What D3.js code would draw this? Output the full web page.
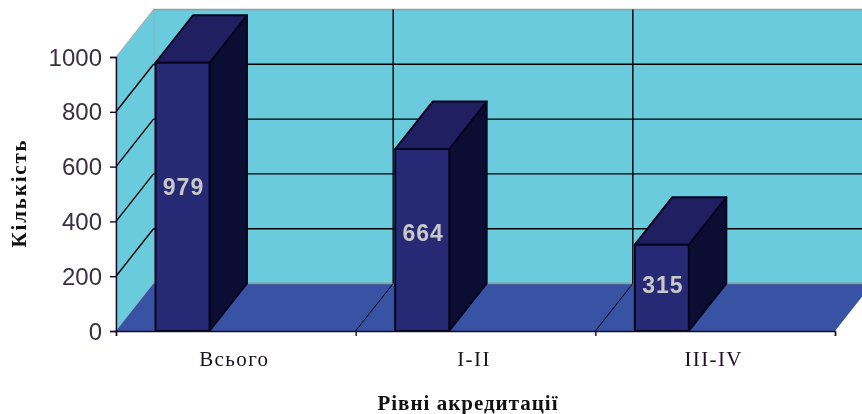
<!DOCTYPE html>
<html><head><meta charset="utf-8">
<script src="https://cdn.jsdelivr.net/npm/d3@7"></script>
<style>html,body{margin:0;padding:0;background:#fff;overflow:hidden}svg{display:block;filter:blur(0.4px)}</style>
</head><body><svg id="c" width="862" height="414"></svg>
<script>
const categories = ["Всього", "I-II", "III-IV"];
const values = [979, 664, 315];
const yTicks = [0, 200, 400, 600, 800, 1000];
const xTitle = "Рівні акредитації";
const yTitle = "Кількість";

const svg = d3.select("#c");
const xL = 116, xR = 835, yB = 331, yT = 57;
const depthX = 37.5, depthY = -47.5;
const x = d3.scaleBand().domain(categories).range([xL, xR]);
const y = d3.scaleLinear().domain([0, 1000]).range([yB, yT]);
const barW = 54, barOffset = 39.5;
const poly = pts => pts.map(p => p.join(",")).join(" ");
const line = d3.line();
const ink = "#000", wall = "#69cbdc", floor = "#3853a4";

// Walls and floor
svg.append("polygon").attr("points", poly([[xL+depthX,yT+depthY],[xR+depthX,yT+depthY],[xR+depthX,yB+depthY],[xL+depthX,yB+depthY]]))
  .attr("fill", wall).attr("stroke", "#9a9aa0").attr("stroke-width", 1.5);
svg.append("polygon").attr("points", poly([[xL,yT],[xL+depthX,yT+depthY],[xL+depthX,yB+depthY],[xL,yB]]))
  .attr("fill", wall).attr("stroke", "#b0a8b4").attr("stroke-width", 1);
svg.append("polygon").attr("points", poly([[xL,yB],[xL+depthX,yB+depthY],[xR+depthX,yB+depthY],[xR,yB]]))
  .attr("fill", floor);
svg.append("path").attr("d", line([[xL+depthX,yB+depthY],[xR+depthX,yB+depthY]])).attr("stroke", "#8a9aa0").attr("stroke-width", 1.5);

// Gridlines
const grid = svg.append("g").attr("fill", "none").attr("stroke", ink).attr("stroke-width", 1.4);
yTicks.forEach(t => {
  if (t > 0 && t < 1000) grid.append("path").attr("d", line([[xL+depthX, y(t)+depthY],[xR+depthX, y(t)+depthY]]));
  if (t > 0 && t < 1000) grid.append("path").attr("d", line([[xL, y(t)],[xL+depthX, y(t)+depthY]]));
});
categories.slice(1).forEach(c => {
  const bx = x(c);
  grid.append("path").attr("d", line([[bx+depthX, yT+depthY],[bx+depthX, yB+depthY]]));
  grid.append("path").attr("d", line([[bx, yB],[bx+depthX, yB+depthY]])).attr("stroke-width", 1);
});

// Bars
categories.forEach((c, i) => {
  const x0 = x(c) + barOffset, x1 = x0 + barW;
  const yv = y(values[i]);
  const g = svg.append("g").attr("stroke", "#05051e").attr("stroke-width", 2).attr("stroke-linejoin", "round");
  g.append("polygon").attr("points", poly([[x1,yv],[x1+depthX,yv+depthY],[x1+depthX,yB+depthY],[x1,yB]])).attr("fill", "#0b0d33");
  g.append("polygon").attr("points", poly([[x0,yv],[x0+depthX,yv+depthY],[x1+depthX,yv+depthY],[x1,yv]])).attr("fill", "#1f1f62");
  g.append("polygon").attr("points", poly([[x0,yv],[x1,yv],[x1,yB],[x0,yB]])).attr("fill", "#262a74");
  svg.append("text").text(values[i])
    .attr("x", (x0+x1)/2 + 1).attr("y", y(values[i]*0.54) + 8.5)
    .attr("text-anchor", "middle").attr("font-family", "Liberation Sans").attr("font-weight", "bold")
    .attr("font-size", 23).attr("letter-spacing", 1).attr("fill", "#c8c8c8");
});

// Axes
const yAxis = d3.axisLeft(y).tickValues(yTicks).tickSize(6).tickFormat(d3.format("d"));
const ya = svg.append("g").attr("transform", `translate(${xL},0)`).call(yAxis);
ya.selectAll("path,line").attr("stroke", "#1c0a24").attr("stroke-width", 1.4);
ya.selectAll("text").attr("font-family", "Liberation Sans").attr("font-size", 24).attr("fill", "#3a3040").attr("x", -14).attr("dy", "0.34em");

const xAxis = d3.axisBottom(d3.scaleLinear().domain([0, 3]).range([xL, xR])).tickValues([0, 1, 2, 3]).tickSize(5).tickFormat("");
const xa = svg.append("g").attr("transform", `translate(0,${yB})`).call(xAxis);
xa.selectAll("path,line").attr("stroke", "#1c0a24").attr("stroke-width", 1.4);

categories.forEach(c => {
  svg.append("text").text(c).attr("x", x(c) + x.bandwidth()/2 - 1.5).attr("y", 366)
    .attr("text-anchor", "middle").attr("font-family", "Liberation Serif").attr("font-size", 21)
    .attr("letter-spacing", 1.4).attr("fill", "#1c1020");
});

svg.append("text").text(xTitle).attr("x", 468).attr("y", 410).attr("text-anchor", "middle")
  .attr("font-family", "Liberation Serif").attr("font-weight", "bold").attr("font-size", 21).attr("letter-spacing", 1).attr("fill", "#111");
svg.append("text").text(yTitle).attr("transform", "translate(26,193) rotate(-90)").attr("text-anchor", "middle")
  .attr("font-family", "Liberation Serif").attr("font-weight", "bold").attr("font-size", 21).attr("letter-spacing", 1.8).attr("fill", "#111");
</script></body></html>
